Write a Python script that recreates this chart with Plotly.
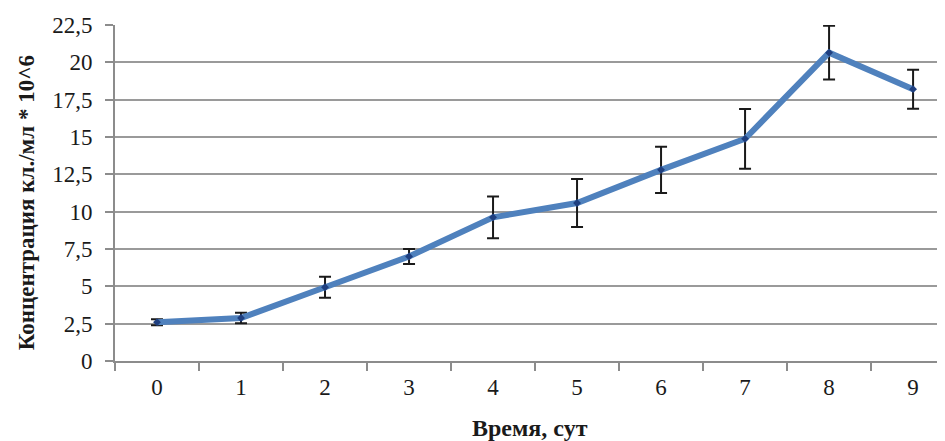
import plotly.graph_objects as go

days = ["0", "1", "2", "3", "4", "5", "6", "7", "8", "9"]
conc = [2.6, 2.88, 4.94, 7.0, 9.62, 10.58, 12.8, 14.88, 20.65, 18.2]
err = [0.2, 0.35, 0.7, 0.5, 1.4, 1.6, 1.55, 2.0, 1.8, 1.3]
yticks = [0, 2.5, 5, 7.5, 10, 12.5, 15, 17.5, 20, 22.5]

SERIF = "Liberation Serif, Times New Roman, serif"

fig = go.Figure()
fig.add_trace(go.Scatter(
    x=days, y=conc, mode="lines+markers",
    line=dict(color="#4F81BD", width=6),
    marker=dict(symbol="diamond", size=6, color="#1F3F7F"),
    error_y=dict(type="data", array=err, visible=True, color="#1a1a1a", thickness=2, width=6),
))

fig.update_layout(
    template="none",
    width=937, height=433,
    margin=dict(l=107, r=0, t=17, b=80),
    paper_bgcolor="white", plot_bgcolor="white",
    separators=", ",
    showlegend=False,
    font=dict(family=SERIF, size=23, color="#1a1a1a"),
    xaxis=dict(type="category", range=[-0.5, 9.38], tickson="boundaries",
               ticks="outside", ticklen=8, tickcolor="#8c8c8c", tickwidth=2,
               showline=True, linecolor="#8c8c8c", linewidth=2,
               showgrid=False, tickfont=dict(family=SERIF, size=23),
               ticklabelstandoff=4),
    yaxis=dict(range=[0, 22.5], tickvals=yticks, tickformat=".1~f",
               ticks="outside", ticklen=8, tickcolor="#8c8c8c", tickwidth=2,
               showline=True, linecolor="#8c8c8c", linewidth=2,
               showgrid=True, gridcolor="#9a9a9a", gridwidth=2,
               zeroline=False, tickfont=dict(family=SERIF, size=23),
               ticklabelstandoff=8),
    annotations=[
        dict(text="<b>Концентрация кл./мл * 10^6</b>", xref="paper", yref="paper",
             x=-0.107, y=0.47, xanchor="center", yanchor="middle", textangle=-90,
             showarrow=False, font=dict(family=SERIF, size=23)),
        dict(text="<b>Время, сут</b>", xref="paper", yref="paper",
             x=0.5, y=-0.2, xanchor="center", yanchor="middle",
             showarrow=False, font=dict(family=SERIF, size=24)),
    ],
)

fig.write_html("out.html")
